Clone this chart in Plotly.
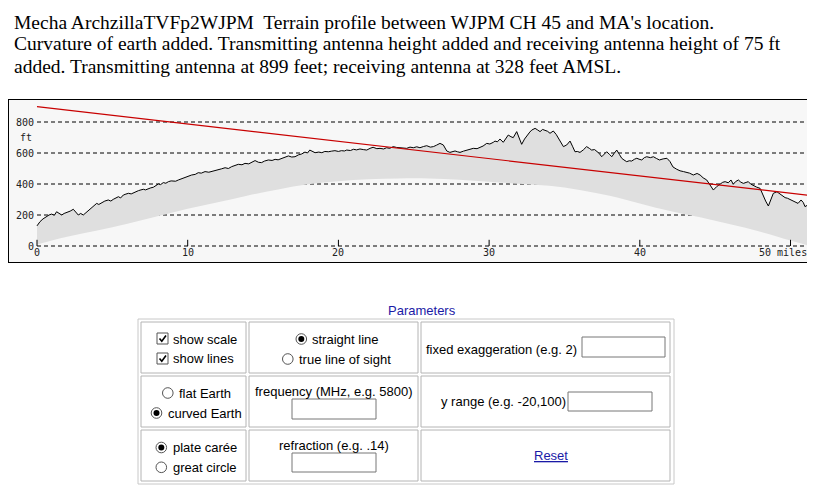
import plotly.graph_objects as go

# page body has an 8px margin, so the figure is 16px smaller than the window
W, H = 807, 484
OFF = 8

# terrain profile as drawn (elevation + earth bulge), feet vs miles
profile_mi = [0, 0.2, 0.4, 0.64, 0.8, 0.97, 1.15, 1.3, 1.5, 1.64, 1.8, 1.97, 2.2, 2.41, 2.6, 2.74, 2.9, 3.07,
              3.25, 3.4, 3.6, 3.74, 3.96, 4.1, 4.3, 4.5, 4.73, 4.9, 5.06, 5.25, 5.4, 5.55, 5.73, 5.9, 6.07,
              6.25, 6.4, 6.55, 6.73, 6.9, 7.06, 7.2, 7.39, 7.55, 7.72, 7.9, 8.05, 8.2, 8.38, 8.55, 8.72,
              8.9, 9.05, 9.2, 9.38, 9.55, 9.71, 9.9, 10.04, 10.26, 10.5, 10.7, 10.9, 11.15, 11.4, 11.59,
              11.8, 12.03, 12.25, 12.48, 12.7, 12.92, 13.15, 13.36, 13.6, 13.8, 14.05, 14.25, 14.47, 14.7,
              14.9, 15.1, 15.35, 15.6, 15.8, 16.0, 16.24, 16.45, 16.68, 16.9, 17.12, 17.35, 17.57, 17.78,
              17.95, 18.1, 18.3, 18.45, 18.7, 18.9, 19.1, 19.33, 19.55, 19.77, 20.0, 20.2, 20.4, 20.55,
              20.8, 21.0, 21.2, 21.43, 21.65, 21.88, 22.1, 22.3, 22.55, 22.76, 23.0, 23.2, 23.4, 23.64,
              23.85, 24.09, 24.3, 24.53, 24.75, 24.97, 25.2, 25.41, 25.65, 25.86, 26.1, 26.3, 26.5, 26.74,
              26.96, 27.19, 27.4, 27.55, 27.74, 27.9, 28.07, 28.3, 28.5, 28.7, 28.95, 29.2, 29.4, 29.6,
              29.84, 30.05, 30.28, 30.39, 30.55, 30.72, 30.94, 31.1, 31.27, 31.45, 31.6, 31.83, 32.0,
              32.16, 32.35, 32.5, 32.7, 32.83, 33.05, 33.2, 33.38, 33.55, 33.71, 33.88, 34.04, 34.26,
              34.45, 34.6, 34.75, 34.93, 35.15, 35.37, 35.55, 35.7, 35.85, 36.03, 36.25, 36.47, 36.65,
              36.8, 37.0, 37.14, 37.3, 37.47, 37.65, 37.8, 38.0, 38.14, 38.3, 38.47, 38.65, 38.8, 38.95,
              39.13, 39.3, 39.46, 39.65, 39.8, 39.95, 40.13, 40.3, 40.46, 40.7, 40.9, 41.1, 41.3, 41.55,
              41.8, 42.0, 42.2, 42.45, 42.67, 42.9, 43.1, 43.3, 43.55, 43.8, 44.0, 44.2, 44.44, 44.66,
              44.88, 45.1, 45.3, 45.5, 45.66, 45.87, 46.05, 46.2, 46.35, 46.54, 46.7, 46.87, 47.05, 47.2,
              47.35, 47.53, 47.75, 47.98, 48.2, 48.35, 48.53, 48.7, 48.86, 49.1, 49.3, 49.5, 49.64, 49.8,
              49.97, 50.1, 50.3, 50.5, 50.7, 50.85, 50.96, 51.1]
profile_ft = [130, 157, 175, 193, 200, 206, 198, 221, 210, 200, 210, 215, 225, 237, 215, 200, 210, 200,
              215, 228, 240, 254, 275, 268, 280, 290, 297, 290, 301, 312, 318, 310, 329, 335, 340,
              336, 344, 350, 357, 362, 366, 362, 372, 375, 379, 392, 400, 396, 409, 405, 415,
              420, 421, 418, 426, 432, 437, 445, 452, 458, 462, 473, 470, 480, 476, 480,
              488, 490, 498, 505, 500, 512, 520, 527, 524, 533, 530, 538, 551, 540,
              538, 548, 555, 552, 559, 556, 566, 572, 581, 574, 576, 588, 594, 606,
              600, 619, 608, 602, 606, 602, 610, 608, 612, 615, 610, 615, 613, 619,
              616, 624, 620, 626, 622, 619, 630, 637, 628, 630, 626, 634, 630, 641,
              636, 634, 628, 630, 638, 634, 640, 634, 642, 647, 638, 641, 650, 662,
              652, 613, 604, 610, 613, 608, 604, 612, 619, 625, 630, 628, 634, 645,
              662, 658, 669, 677, 672, 690, 669, 690, 716, 705, 699, 738, 700,
              656, 690, 712, 735, 748, 759, 750, 738, 752, 748, 740, 727, 742,
              720, 695, 668, 641, 652, 677, 640, 608, 610, 604, 620, 641, 630,
              619, 622, 613, 598, 576, 595, 608, 590, 576, 598, 619, 590, 566, 555,
              544, 550, 548, 560, 566, 560, 555, 570, 576, 570, 576, 565, 555, 562,
              566, 545, 510, 495, 485, 480, 475, 470, 458, 468, 458, 440, 426, 389,
              361, 383, 400, 411, 415, 408, 426, 398, 415, 426, 412, 404, 410, 415,
              400, 389, 380, 372, 318, 290, 258, 300, 340, 350, 334, 318, 312, 308,
              300, 297, 286, 275, 297, 280, 254, 262]

# earth bulge under the profile
bulge_mi = [0, 2, 4, 6, 8, 10, 12, 14, 16, 18, 20, 22, 24, 26, 28, 30, 32, 34, 36, 38, 40, 42, 44,
            46, 48, 50, 51.1]
bulge_ft = [10, 60, 100, 143, 192, 240, 282, 326, 365, 398, 418, 430, 436, 436, 428, 415, 402, 388,
            362, 325, 275, 226, 186, 140, 92, 35, 5]

# line of sight between antennas
los_mi = [0, 51.1]
los_ft = [899, 328]

y_ticks = [0, 200, 400, 600, 800]
x_ticks = [0, 10, 20, 30, 40, 50]
x_tick_text = ['0', '10', '20', '30', '40', '50 miles']

header = ["Mecha ArchzillaTVFp2WJPM\u00a0 Terrain profile between WJPM CH 45 and MA's location.",
          "Curvature of earth added. Transmitting antenna height added and receiving antenna height of 75 ft",
          "added. Transmitting antenna at 899 feet; receiving antenna at 328 feet AMSL."]


# window pixels -> paper fractions
def px(x):
    return (x - OFF) / W


def py(y):
    return 1 - (y - OFF) / H


fig = go.Figure()

# dashed grid
for v in y_ticks:
    fig.add_trace(go.Scatter(x=[0, 51.1], y=[v, v], mode='lines',
                             line=dict(color='black', width=1, dash='4px,3px'), hoverinfo='skip'))

fig.add_trace(go.Scatter(x=bulge_mi, y=bulge_ft, mode='lines',
                         line=dict(color='rgba(0,0,0,0)', width=0, shape='spline'), hoverinfo='skip'))
fig.add_trace(go.Scatter(x=profile_mi, y=profile_ft, mode='lines', fill='tonexty',
                         fillcolor='#dfdfdf', line=dict(color='black', width=1)))
fig.add_trace(go.Scatter(x=los_mi, y=los_ft, mode='lines', line=dict(color='#c80000', width=1.2)))

# tick marks on the zero line
tx, ty = [], []
for t in x_ticks:
    tx += [t, t, None]
    ty += [0, 40, None]
fig.add_trace(go.Scatter(x=tx, y=ty, mode='lines', line=dict(color='black', width=1), hoverinfo='skip'))

mono = dict(family='DejaVu Sans Mono', size=10, color='#222')
ann = []
for v in y_ticks:
    ann.append(dict(x=0, y=v, xref='x', yref='y', text=str(v), showarrow=False,
                    xanchor='right', yanchor='middle', xshift=-1, font=mono))
ann.append(dict(x=0, y=703, xref='x', yref='y', text='ft', showarrow=False,
                xanchor='right', yanchor='middle', xshift=-3, font=mono))
for t, lab in zip(x_ticks, x_tick_text):
    if lab.endswith('miles'):
        ann.append(dict(x=t, y=-42, xref='x', yref='y', text=lab, showarrow=False,
                        xanchor='left', yanchor='middle', xshift=-34, font=mono))
    else:
        ann.append(dict(x=t, y=-42, xref='x', yref='y', text=lab, showarrow=False,
                        xanchor='center', yanchor='middle', font=mono))

serif = dict(family='Liberation Serif', size=19.5, color='black')
for i, line in enumerate(header):
    ann.append(dict(x=px(13), y=py(22 + 22 * i), xref='paper', yref='paper', text=line,
                    showarrow=False, xanchor='left', yanchor='middle', borderpad=0, font=serif))

# parameters form
sans = dict(family='Liberation Sans', size=13, color='black')
blue = dict(family='Liberation Sans', size=13, color='#1a1aa6')
form_text = [
    ('Parameters', 422, 310, 'center', blue),
    ('show scale', 172, 339, 'left', sans),
    ('show lines', 172, 358, 'left', sans),
    ('straight line', 311, 339, 'left', sans),
    ('true line of sight', 298, 359, 'left', sans),
    ('fixed exaggeration (e.g. 2)', 425, 349, 'left', sans),
    ('flat Earth', 178, 393, 'left', sans),
    ('curved Earth', 167, 413, 'left', sans),
    ('frequency (MHz, e.g. 5800)', 334, 391, 'center', sans),
    ('y range (e.g. -20,100)', 440, 401, 'left', sans),
    ('plate carée', 172, 447, 'left', sans),
    ('great circle', 172, 467, 'left', sans),
    ('refraction (e.g. .14)', 334, 445, 'center', sans),
    ('<u>Reset</u>', 551, 455, 'center', blue),
]
for txt, x, y, anc, f in form_text:
    ann.append(dict(x=px(x), y=py(y), xref='paper', yref='paper', text=txt, showarrow=False,
                    xanchor=anc, yanchor='middle', borderpad=0, font=f))

shapes = []


def rect(x0, y0, x1, y1, color, fill='rgba(0,0,0,0)', width=1):
    shapes.append(dict(type='rect', xref='paper', yref='paper', x0=px(x0), x1=px(x1),
                       y0=py(y1), y1=py(y0), line=dict(color=color, width=width), fillcolor=fill))


def radio(cx, cy, on):
    shapes.append(dict(type='circle', xref='paper', yref='paper', x0=px(cx - 5.3), x1=px(cx + 5.3),
                       y0=py(cy + 5.3), y1=py(cy - 5.3), line=dict(color='#555', width=1),
                       fillcolor='white'))
    if on:
        shapes.append(dict(type='circle', xref='paper', yref='paper', x0=px(cx - 3), x1=px(cx + 3),
                           y0=py(cy + 3), y1=py(cy - 3), line=dict(color='black', width=0),
                           fillcolor='black'))


def checkbox(x0, y0):
    rect(x0, y0, x0 + 11, y0 + 11, '#555', 'white')
    path = 'M {} {} L {} {} L {} {}'.format(px(x0 + 2.5), py(y0 + 5.5), px(x0 + 4.8), py(y0 + 8.3),
                                           px(x0 + 9), py(y0 + 2.5))
    shapes.append(dict(type='path', xref='paper', yref='paper', path=path,
                       line=dict(color='black', width=1.6)))


rect(138, 319, 674, 484, '#c8c8c8')
cols = [(141, 246), (249, 418), (421, 670)]
rows = [(322, 373), (376, 427), (430, 481)]
for c0, c1 in cols:
    for r0, r1 in rows:
        rect(c0, r0, c1, r1, '#b4b4b4')

checkbox(157, 333)
checkbox(157, 353)
radio(301.3, 339, True)
radio(287.8, 359, False)
radio(167.8, 393, False)
radio(156.5, 413, True)
radio(161.3, 447.5, True)
radio(161.3, 467.3, False)
rect(582, 337, 665, 357, '#767676', 'white')
rect(292, 399, 376, 419, '#767676', 'white')
rect(568, 392, 652, 411, '#767676', 'white')
rect(292, 453, 376, 472, '#767676', 'white')

fig.update_layout(
    width=W, height=H, margin=dict(l=0, r=0, t=0, b=0),
    paper_bgcolor='white', plot_bgcolor='#f7f7f7', showlegend=False,
    xaxis=dict(domain=[px(9), px(808)], range=[-1.858, 51.16], showgrid=False, zeroline=False,
               showticklabels=False, ticks='', showline=True, mirror=True, linecolor='black',
               linewidth=1, fixedrange=True),
    yaxis=dict(domain=[py(262), py(100)], range=[-103.2, 941.9], showgrid=False, zeroline=False,
               showticklabels=False, ticks='', showline=True, mirror=True, linecolor='black',
               linewidth=1, fixedrange=True),
    annotations=ann, shapes=shapes,
)

fig.write_html("out.html", config={'displayModeBar': False})
